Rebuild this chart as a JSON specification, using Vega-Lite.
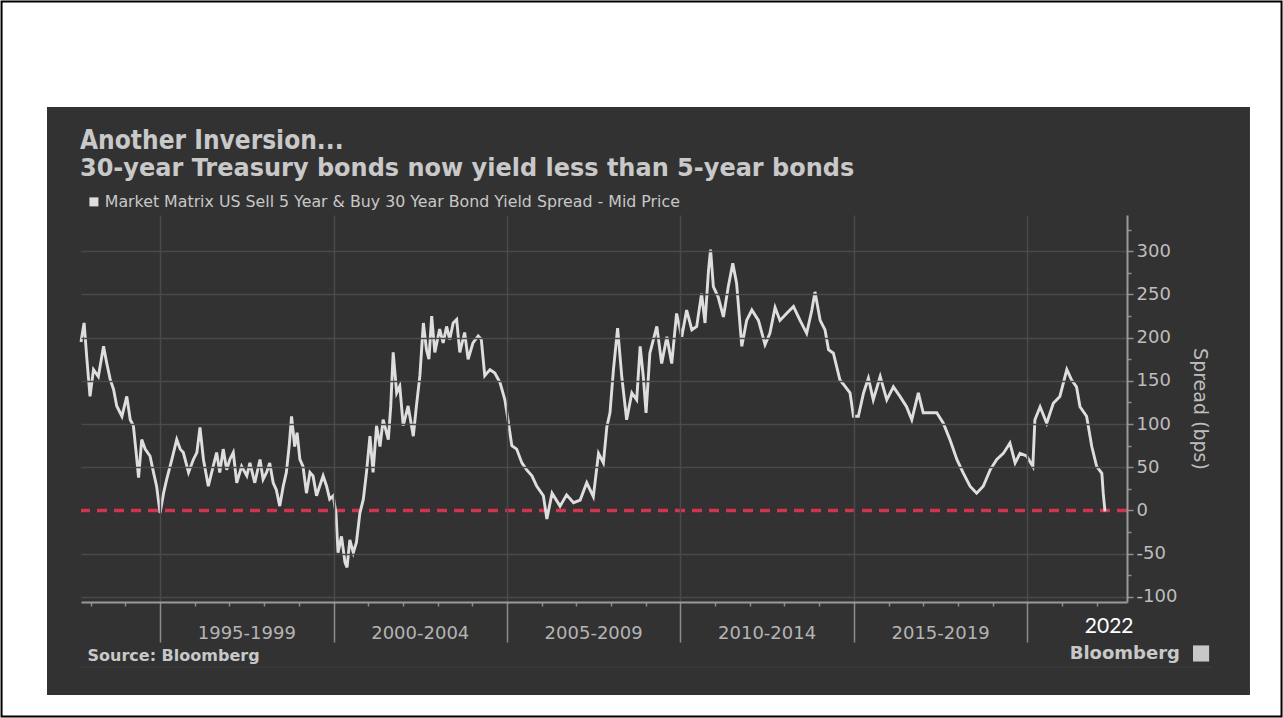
{
  "$schema": "https://vega.github.io/schema/vega-lite/v6.json",
  "width": 1046,
  "height": 387,
  "autosize": {"type": "none"},
  "padding": {"left": 81, "top": 215, "right": 156, "bottom": 116},
  "background": "#ffffff",
  "config": {"view": {"stroke": null}, "font": "DejaVu Sans"},
  "layer": [
    {
      "data": {"values": [{}]},
      "mark": {"type": "rect", "fill": "#ffffff", "stroke": "#000000", "strokeWidth": 2},
      "encoding": {
        "x": {"datum": 1990.43, "type": "quantitative", "scale": {"domain": [1992.72, 2022.875], "nice": false, "zero": false}},
        "x2": {"datum": 2027.33},
        "y": {"datum": 589.2, "type": "quantitative", "scale": {"domain": [-106, 342], "nice": false, "zero": false}},
        "y2": {"datum": -238.6}
      }
    },
    {
      "data": {"values": [{}]},
      "mark": {"type": "rect", "fill": "#323232"},
      "encoding": {
        "x": {"datum": 1991.74, "type": "quantitative", "scale": {"domain": [1992.72, 2022.875], "nice": false, "zero": false}},
        "x2": {"datum": 2026.42},
        "y": {"datum": 467.0, "type": "quantitative", "scale": {"domain": [-106, 342], "nice": false, "zero": false}},
        "y2": {"datum": -213.7}
      }
    },
    {
      "data": {"values": [{"label": "Another Inversion..."}]},
      "mark": {"type": "text", "align": "left", "baseline": "alphabetic", "font": "DejaVu Sans Condensed", "fontSize": 26, "fontWeight": "bold", "color": "#c9c9c9"},
      "encoding": {
        "text": {"field": "label"},
        "x": {"datum": 1992.69, "type": "quantitative", "scale": {"domain": [1992.72, 2022.875], "nice": false, "zero": false}},
        "y": {"datum": 418.4, "type": "quantitative", "scale": {"domain": [-106, 342], "nice": false, "zero": false}}
      }
    },
    {
      "data": {"values": [{"label": "30-year Treasury bonds now yield less than 5-year bonds"}]},
      "mark": {"type": "text", "align": "left", "baseline": "alphabetic", "font": "DejaVu Sans", "fontSize": 24, "fontWeight": "bold", "color": "#c9c9c9"},
      "encoding": {
        "text": {"field": "label"},
        "x": {"datum": 1992.69, "type": "quantitative", "scale": {"domain": [1992.72, 2022.875], "nice": false, "zero": false}},
        "y": {"datum": 387.1, "type": "quantitative", "scale": {"domain": [-106, 342], "nice": false, "zero": false}}
      }
    },
    {
      "data": {"values": [{}]},
      "mark": {"type": "rule", "stroke": "#3e3e3e", "strokeWidth": 1},
      "encoding": {
        "x": {"datum": 1992.69, "type": "quantitative", "scale": {"domain": [1992.72, 2022.875], "nice": false, "zero": false}},
        "x2": {"datum": 2025.32},
        "y": {"datum": -181.3, "type": "quantitative", "scale": {"domain": [-106, 342], "nice": false, "zero": false}}
      }
    },
    {
      "data": {"values": [
        {"year": 1997.5, "label": "1995-1999"}, {"year": 2002.5, "label": "2000-2004"}, {"year": 2007.5, "label": "2005-2009"},
        {"year": 2012.5, "label": "2010-2014"}, {"year": 2017.5, "label": "2015-2019"}
      ]},
      "mark": {"type": "text", "align": "center", "baseline": "alphabetic", "font": "DejaVu Sans", "fontSize": 18, "color": "#b4b4b4"},
      "encoding": {
        "text": {"field": "label"},
        "x": {"field": "year", "type": "quantitative", "scale": {"domain": [1992.72, 2022.875], "nice": false, "zero": false}},
        "y": {"datum": -148.9, "type": "quantitative", "scale": {"domain": [-106, 342], "nice": false, "zero": false}}
      }
    },
    {
      "data": {"values": [{"year": 2022.36, "label": "2022"}]},
      "mark": {"type": "text", "align": "center", "baseline": "alphabetic", "font": "Lato", "fontSize": 21, "color": "#ffffff"},
      "encoding": {
        "text": {"field": "label"},
        "x": {"field": "year", "type": "quantitative", "scale": {"domain": [1992.72, 2022.875], "nice": false, "zero": false}},
        "y": {"datum": -141.9, "type": "quantitative", "scale": {"domain": [-106, 342], "nice": false, "zero": false}}
      }
    },
    {
      "data": {"values": [{}]},
      "mark": {"type": "rule", "color": "#d0344f", "stroke": "#d0344f", "strokeWidth": 3.5, "strokeDash": [10, 7]},
      "encoding": {
        "y": {"datum": 0, "type": "quantitative", "scale": {"domain": [-106, 342], "nice": false, "zero": false}}
      }
    },
    {
      "data": {
        "values": [
          {"year": 1992.72, "spread": 195}, {"year": 1992.76, "spread": 205}, {"year": 1992.81, "spread": 217}, {"year": 1992.89, "spread": 175},
          {"year": 1992.98, "spread": 132}, {"year": 1993.08, "spread": 163}, {"year": 1993.22, "spread": 155}, {"year": 1993.37, "spread": 190},
          {"year": 1993.46, "spread": 171}, {"year": 1993.56, "spread": 152}, {"year": 1993.66, "spread": 140}, {"year": 1993.75, "spread": 121},
          {"year": 1993.90, "spread": 109}, {"year": 1994.04, "spread": 132}, {"year": 1994.14, "spread": 105}, {"year": 1994.23, "spread": 98},
          {"year": 1994.31, "spread": 67}, {"year": 1994.38, "spread": 38}, {"year": 1994.47, "spread": 82}, {"year": 1994.57, "spread": 71},
          {"year": 1994.71, "spread": 63}, {"year": 1994.81, "spread": 44}, {"year": 1994.90, "spread": 28}, {"year": 1995.00, "spread": -3},
          {"year": 1995.10, "spread": 20}, {"year": 1995.19, "spread": 36}, {"year": 1995.34, "spread": 59}, {"year": 1995.48, "spread": 82},
          {"year": 1995.58, "spread": 71}, {"year": 1995.67, "spread": 67}, {"year": 1995.82, "spread": 44}, {"year": 1995.96, "spread": 59},
          {"year": 1996.06, "spread": 67}, {"year": 1996.15, "spread": 96}, {"year": 1996.25, "spread": 59}, {"year": 1996.39, "spread": 28},
          {"year": 1996.53, "spread": 51}, {"year": 1996.63, "spread": 67}, {"year": 1996.72, "spread": 44}, {"year": 1996.82, "spread": 71},
          {"year": 1996.92, "spread": 47}, {"year": 1997.01, "spread": 59}, {"year": 1997.11, "spread": 67}, {"year": 1997.21, "spread": 32},
          {"year": 1997.35, "spread": 51}, {"year": 1997.50, "spread": 40}, {"year": 1997.59, "spread": 55}, {"year": 1997.73, "spread": 32},
          {"year": 1997.88, "spread": 59}, {"year": 1997.97, "spread": 36}, {"year": 1998.07, "spread": 44}, {"year": 1998.16, "spread": 55},
          {"year": 1998.26, "spread": 32}, {"year": 1998.35, "spread": 24}, {"year": 1998.45, "spread": 5}, {"year": 1998.55, "spread": 28},
          {"year": 1998.64, "spread": 44}, {"year": 1998.72, "spread": 74}, {"year": 1998.79, "spread": 109}, {"year": 1998.88, "spread": 74},
          {"year": 1998.95, "spread": 90}, {"year": 1999.03, "spread": 59}, {"year": 1999.12, "spread": 51}, {"year": 1999.22, "spread": 20},
          {"year": 1999.32, "spread": 44}, {"year": 1999.41, "spread": 40}, {"year": 1999.51, "spread": 17}, {"year": 1999.60, "spread": 28},
          {"year": 1999.70, "spread": 40}, {"year": 1999.80, "spread": 28}, {"year": 1999.89, "spread": 13}, {"year": 1999.99, "spread": 17},
          {"year": 2000.07, "spread": -3}, {"year": 2000.13, "spread": -49}, {"year": 2000.23, "spread": -30}, {"year": 2000.33, "spread": -60},
          {"year": 2000.39, "spread": -66}, {"year": 2000.47, "spread": -34}, {"year": 2000.57, "spread": -49}, {"year": 2000.66, "spread": -37},
          {"year": 2000.76, "spread": -3}, {"year": 2000.86, "spread": 13}, {"year": 2000.95, "spread": 44}, {"year": 2001.05, "spread": 86},
          {"year": 2001.14, "spread": 44}, {"year": 2001.24, "spread": 98}, {"year": 2001.34, "spread": 74}, {"year": 2001.43, "spread": 105},
          {"year": 2001.58, "spread": 82}, {"year": 2001.65, "spread": 121}, {"year": 2001.72, "spread": 183}, {"year": 2001.82, "spread": 136},
          {"year": 2001.91, "spread": 144}, {"year": 2002.01, "spread": 98}, {"year": 2002.15, "spread": 121}, {"year": 2002.30, "spread": 86},
          {"year": 2002.39, "spread": 121}, {"year": 2002.49, "spread": 156}, {"year": 2002.59, "spread": 217}, {"year": 2002.68, "spread": 186},
          {"year": 2002.75, "spread": 175}, {"year": 2002.83, "spread": 225}, {"year": 2002.92, "spread": 183}, {"year": 2003.06, "spread": 210},
          {"year": 2003.16, "spread": 194}, {"year": 2003.26, "spread": 213}, {"year": 2003.35, "spread": 198}, {"year": 2003.45, "spread": 217},
          {"year": 2003.55, "spread": 221}, {"year": 2003.64, "spread": 183}, {"year": 2003.78, "spread": 206}, {"year": 2003.88, "spread": 175},
          {"year": 2004.02, "spread": 194}, {"year": 2004.17, "spread": 202}, {"year": 2004.26, "spread": 198}, {"year": 2004.36, "spread": 156},
          {"year": 2004.51, "spread": 163}, {"year": 2004.65, "spread": 159}, {"year": 2004.80, "spread": 148}, {"year": 2004.94, "spread": 128},
          {"year": 2005.03, "spread": 105}, {"year": 2005.14, "spread": 75}, {"year": 2005.28, "spread": 71}, {"year": 2005.43, "spread": 55},
          {"year": 2005.57, "spread": 47}, {"year": 2005.72, "spread": 40}, {"year": 2005.86, "spread": 28}, {"year": 2006.05, "spread": 17},
          {"year": 2006.15, "spread": -10}, {"year": 2006.30, "spread": 20}, {"year": 2006.53, "spread": 5}, {"year": 2006.72, "spread": 18},
          {"year": 2006.92, "spread": 9}, {"year": 2007.11, "spread": 12}, {"year": 2007.30, "spread": 32}, {"year": 2007.49, "spread": 16},
          {"year": 2007.64, "spread": 66}, {"year": 2007.78, "spread": 55}, {"year": 2007.88, "spread": 97}, {"year": 2007.97, "spread": 113},
          {"year": 2008.07, "spread": 163}, {"year": 2008.19, "spread": 211}, {"year": 2008.31, "spread": 155}, {"year": 2008.45, "spread": 105},
          {"year": 2008.60, "spread": 136}, {"year": 2008.74, "spread": 128}, {"year": 2008.84, "spread": 190}, {"year": 2008.93, "spread": 155},
          {"year": 2009.01, "spread": 113}, {"year": 2009.12, "spread": 182}, {"year": 2009.32, "spread": 213}, {"year": 2009.46, "spread": 170},
          {"year": 2009.61, "spread": 201}, {"year": 2009.75, "spread": 170}, {"year": 2009.89, "spread": 228}, {"year": 2010.04, "spread": 201},
          {"year": 2010.18, "spread": 232}, {"year": 2010.33, "spread": 209}, {"year": 2010.47, "spread": 213}, {"year": 2010.61, "spread": 251},
          {"year": 2010.71, "spread": 217}, {"year": 2010.81, "spread": 278}, {"year": 2010.87, "spread": 302}, {"year": 2010.95, "spread": 259},
          {"year": 2011.09, "spread": 247}, {"year": 2011.24, "spread": 224}, {"year": 2011.38, "spread": 259}, {"year": 2011.51, "spread": 286},
          {"year": 2011.62, "spread": 263}, {"year": 2011.77, "spread": 190}, {"year": 2011.91, "spread": 220}, {"year": 2012.06, "spread": 232},
          {"year": 2012.25, "spread": 220}, {"year": 2012.44, "spread": 192}, {"year": 2012.58, "spread": 205}, {"year": 2012.73, "spread": 235},
          {"year": 2012.87, "spread": 220}, {"year": 2013.06, "spread": 228}, {"year": 2013.26, "spread": 236}, {"year": 2013.45, "spread": 220},
          {"year": 2013.64, "spread": 205}, {"year": 2013.79, "spread": 232}, {"year": 2013.88, "spread": 253}, {"year": 2014.03, "spread": 220},
          {"year": 2014.17, "spread": 209}, {"year": 2014.27, "spread": 186}, {"year": 2014.41, "spread": 182}, {"year": 2014.60, "spread": 151},
          {"year": 2014.72, "spread": 145}, {"year": 2014.89, "spread": 136}, {"year": 2014.99, "spread": 109}, {"year": 2015.13, "spread": 109},
          {"year": 2015.28, "spread": 136}, {"year": 2015.42, "spread": 153}, {"year": 2015.56, "spread": 128}, {"year": 2015.76, "spread": 155},
          {"year": 2015.95, "spread": 128}, {"year": 2016.14, "spread": 143}, {"year": 2016.33, "spread": 132}, {"year": 2016.52, "spread": 120},
          {"year": 2016.67, "spread": 105}, {"year": 2016.86, "spread": 136}, {"year": 2017.00, "spread": 113}, {"year": 2017.20, "spread": 113},
          {"year": 2017.39, "spread": 113}, {"year": 2017.58, "spread": 101}, {"year": 2017.77, "spread": 82}, {"year": 2017.97, "spread": 59},
          {"year": 2018.16, "spread": 43}, {"year": 2018.35, "spread": 28}, {"year": 2018.54, "spread": 20}, {"year": 2018.73, "spread": 28},
          {"year": 2018.93, "spread": 47}, {"year": 2019.12, "spread": 59}, {"year": 2019.31, "spread": 66}, {"year": 2019.50, "spread": 78},
          {"year": 2019.65, "spread": 55}, {"year": 2019.79, "spread": 66}, {"year": 2019.98, "spread": 63}, {"year": 2020.16, "spread": 51},
          {"year": 2020.22, "spread": 105}, {"year": 2020.37, "spread": 120}, {"year": 2020.56, "spread": 101}, {"year": 2020.75, "spread": 124},
          {"year": 2020.94, "spread": 132}, {"year": 2021.14, "spread": 163}, {"year": 2021.28, "spread": 151}, {"year": 2021.42, "spread": 143},
          {"year": 2021.52, "spread": 120}, {"year": 2021.71, "spread": 109}, {"year": 2021.86, "spread": 74}, {"year": 2022.00, "spread": 51},
          {"year": 2022.15, "spread": 43}, {"year": 2022.19, "spread": 20}, {"year": 2022.24, "spread": -1}
        ]
      },
      "mark": {"type": "line", "strokeWidth": 2.9, "strokeJoin": "miter"},
      "encoding": {
        "x": {
          "field": "year",
          "type": "quantitative",
          "scale": {"domain": [1992.72, 2022.875], "nice": false, "zero": false},
          "axis": {
            "zindex": 1,
            "values": [1993, 1994, 1995, 1996, 1997, 1998, 1999, 2000, 2001, 2002, 2003, 2004, 2005, 2006, 2007, 2008, 2009, 2010, 2011, 2012, 2013, 2014, 2015, 2016, 2017, 2018, 2019, 2020, 2021, 2022],
            "tickCount": 200,
            "labelExpr": "''",
            "labelOverlap": false,
            "labelFlush": false,
            "labelBound": false,
            "tickSize": {"condition": {"test": "datum.value % 5 === 0", "value": 40}, "value": 4},
            "tickColor": "#8c8c8c",
            "tickWidth": 1.5,
            "grid": true,
            "gridColor": "#4a4a4a",
            "gridWidth": 1.5,
            "gridOpacity": {"condition": {"test": "datum.value % 5 === 0", "value": 1}, "value": 0},
            "domainColor": "#9a9a9a",
            "domainWidth": 2,
            "title": "Source: Bloomberg",
            "titleAnchor": "start",
            "titleAlign": "left",
            "titleBaseline": "alphabetic",
            "titleX": 6,
            "titleY": 58,
            "titleFont": "DejaVu Sans",
            "titleFontSize": 16,
            "titleFontWeight": "bold",
            "titleColor": "#c8c8c8"
          }
        },
        "y": {
          "field": "spread",
          "type": "quantitative",
          "scale": {"domain": [-106, 342], "nice": false, "zero": false},
          "axis": {
            "zindex": 1,
            "orient": "right",
            "values": [-100, -75, -50, -25, 0, 25, 50, 75, 100, 125, 150, 175, 200, 225, 250, 275, 300, 325],
            "tickCount": 200,
            "labelExpr": "datum.value % 50 === 0 ? (datum.value < 0 ? '-' + abs(datum.value) : '' + datum.value) : ''",
            "labelOverlap": false,
            "labelFont": "DejaVu Sans",
            "labelFontSize": 18,
            "labelColor": "#bdbdbd",
            "labelPadding": 3,
            "tickSize": {"condition": {"test": "datum.value % 50 === 0", "value": 6}, "value": 4},
            "tickColor": "#8c8c8c",
            "tickWidth": 1.5,
            "grid": true,
            "gridColor": "#4a4a4a",
            "gridWidth": 1.5,
            "gridOpacity": {"condition": {"test": "datum.value % 50 === 0 && datum.value !== 0", "value": 1}, "value": 0},
            "domainColor": "#9a9a9a",
            "domainWidth": 2,
            "title": "Spread (bps)",
            "titleFont": "DejaVu Sans",
            "titleFontSize": 19,
            "titleFontWeight": "normal",
            "titleColor": "#bdbdbd",
            "titlePadding": 13
          }
        },
        "color": {
          "datum": "Market Matrix US Sell 5 Year & Buy 30 Year Bond Yield Spread - Mid Price",
          "scale": {"range": ["#dedede"]},
          "legend": {
            "orient": "none",
            "legendX": 5,
            "legendY": -21,
            "title": null,
            "symbolType": "square",
            "symbolSize": 81,
            "symbolFillColor": "#dedede",
            "symbolStrokeColor": "#dedede",
            "symbolStrokeWidth": 0,
            "labelColor": "#c8c8c8",
            "labelFont": "DejaVu Sans",
            "labelFontSize": 15.8,
            "labelOffset": 3,
            "labelLimit": 0,
            "padding": 0
          }
        }
      }
    },
    {
      "data": {"values": [{"label": "Bloomberg"}]},
      "mark": {"type": "text", "align": "right", "baseline": "alphabetic", "font": "DejaVu Sans", "fontWeight": "bold", "fontSize": 18, "color": "#c8c8c8"},
      "encoding": {
        "text": {"field": "label"},
        "x": {"datum": 2024.40, "type": "quantitative", "scale": {"domain": [1992.72, 2022.875], "nice": false, "zero": false}},
        "y": {"datum": -172, "type": "quantitative", "scale": {"domain": [-106, 342], "nice": false, "zero": false}}
      }
    },
    {
      "data": {"values": [{}]},
      "mark": {"type": "point", "shape": "square", "filled": true, "size": 260, "color": "#c8c8c8", "opacity": 1},
      "encoding": {
        "x": {"datum": 2025.01, "type": "quantitative", "scale": {"domain": [1992.72, 2022.875], "nice": false, "zero": false}},
        "y": {"datum": -165.6, "type": "quantitative", "scale": {"domain": [-106, 342], "nice": false, "zero": false}}
      }
    }
  ]
}
